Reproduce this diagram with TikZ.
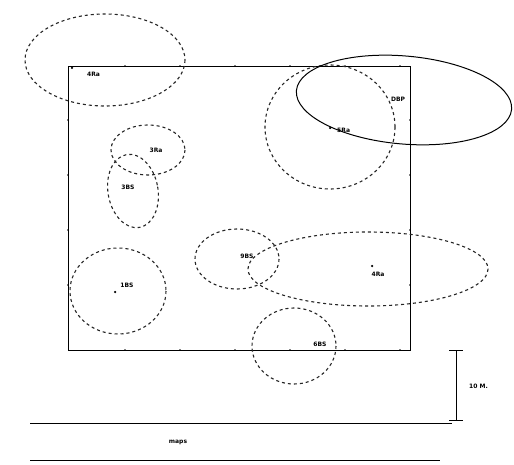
\documentclass[tikz,border=0pt]{standalone}
\usepackage{fontspec}
\setmainfont{DejaVu Sans}
\begin{document}
\begin{tikzpicture}[x=1pt,y=-1pt,
  zone/.style={draw=black!85,dashed,line width=1.1pt,dash pattern=on 3pt off 3pt},
  zonesolid/.style={draw=black,line width=1pt},
  lbl/.style={font=\fontsize{6}{6}\selectfont\bfseries,inner sep=1pt},
  pt/.style={circle,fill=black,inner sep=0pt,minimum size=2.5pt}]
\useasboundingbox (0,0) rectangle (514,465);
\fill[white] (0,0) rectangle (514,465);
% site boundary
\draw[line width=0.8pt] (68,66) coordinate (tl) rectangle (410,350) coordinate (br);
\foreach \x in {125,180,235,290,345,400} {\fill (\x,66) circle (0.9pt); \fill (\x,350) circle (0.9pt);}
\foreach \y in {120,175,230,285} {\fill (68,\y) circle (0.9pt); \fill (410,\y) circle (0.9pt);}
% zones
\draw[zone] (105,60) ellipse [x radius=80,y radius=46];
\draw[zone] (330,127) ellipse [x radius=65,y radius=62];
\draw[zonesolid,rotate around={-5:(404,100)}] (404,100) ellipse [x radius=108,y radius=44];
\draw[zone] (148,150) ellipse [x radius=37,y radius=25];
\draw[zone,rotate around={10:(133,191)}] (133,191) ellipse [x radius=25,y radius=37];
\draw[zone] (237,259) ellipse [x radius=42,y radius=30];
\draw[zone] (368,269) ellipse [x radius=120,y radius=37];
\draw[zone] (118,291) ellipse [x radius=48,y radius=43];
\draw[zone] (294,346) ellipse [x radius=42,y radius=38];
% labels
\node[pt] (p1) at (72,68) {};
\node[lbl,anchor=west] (l1) at (86,74) {4Ra};
\node[lbl] (l2) at (398,99) {DBP};
\node[pt] (p3) at (330,128) {};
\node[lbl,anchor=west] (l3) at (336,130) {5Ra};
\node[lbl] (l4) at (156,150) {3Ra};
\node[lbl] (l5) at (128,187) {3BS};
\node[lbl] (l6) at (247,256) {9BS};
\node[pt] (p7) at (372,266) {};
\node[lbl] (l7) at (378,274) {4Ra};
\node[pt] (p8) at (115,292) {};
\node[lbl] (l8) at (127,285) {1BS};
\node[lbl] (l9) at (320,344) {6BS};
% scale bar
\coordinate (s1) at (456,350);
\coordinate (s2) at (456,420);
\draw[line width=0.9pt] (s1) -- (s2);
\draw[line width=0.9pt] (449,350) -- (463,350);
\draw[line width=0.9pt] (449,420) -- (463,420);
\node[lbl,anchor=west] (sc) at (468,386) {10 M.};
% road
\draw[line width=0.7pt] (30,423) -- (452,423);
\draw[line width=0.9pt] (30,460) -- (440,460);
\node[lbl] (rd) at (178,442) {maps};
\end{tikzpicture}
\end{document}
